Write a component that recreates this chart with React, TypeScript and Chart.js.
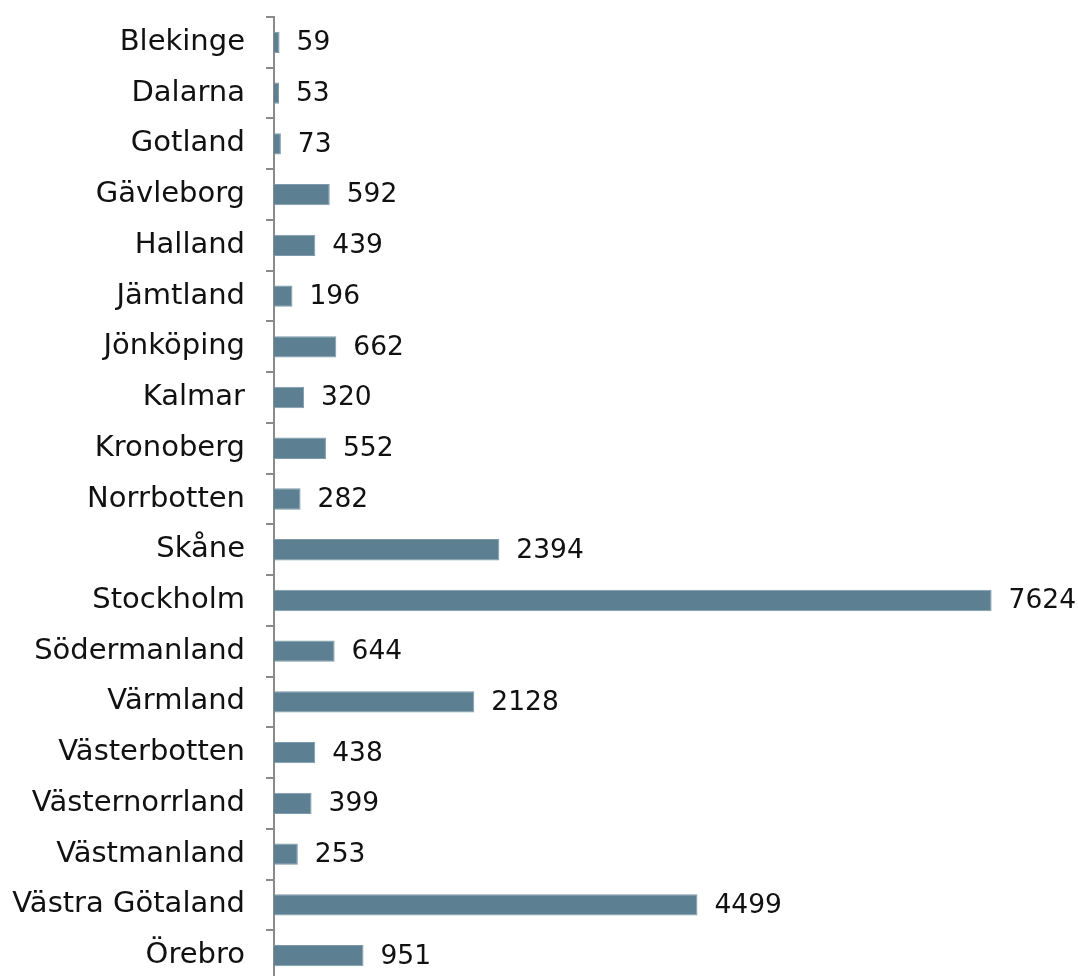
import React, { useEffect, useRef } from "react";
import { Chart, registerables } from "chart.js";

Chart.register(...registerables);

const categories = [
  "Blekinge", "Dalarna", "Gotland", "Gävleborg", "Halland", "Jämtland", "Jönköping",
  "Kalmar", "Kronoberg", "Norrbotten", "Skåne", "Stockholm", "Södermanland", "Värmland",
  "Västerbotten", "Västernorrland", "Västmanland", "Västra Götaland", "Örebro",
];
const values = [59, 53, 73, 592, 439, 196, 662, 320, 552, 282, 2394, 7624, 644, 2128, 438, 399, 253, 4499, 951];

const FONT = "'DejaVu Sans', Verdana, sans-serif";

const valueLabels = {
  id: "valueLabels",
  afterDatasetsDraw(chart: any) {
    const ctx = chart.ctx;
    const meta = chart.getDatasetMeta(0);
    ctx.save();
    ctx.font = `26.5px ${FONT}`;
    ctx.fillStyle = "#111111";
    ctx.textAlign = "left";
    ctx.textBaseline = "middle";
    meta.data.forEach((bar: any, i: number) => {
      ctx.fillText(String(values[i]), bar.x + 17, bar.y + 1);
    });
    ctx.restore();
  },
};

export default function App() {
  const ref = useRef<HTMLCanvasElement>(null);
  useEffect(() => {
    if (!ref.current) return;
    const chart = new Chart(ref.current, {
      type: "bar",
      data: {
        labels: categories,
        datasets: [
          {
            data: values,
            backgroundColor: "#5c7f92",
            borderColor: "#7d9aaa",
            borderWidth: 1,
            barPercentage: 0.42,
            categoryPercentage: 1,
          },
        ],
      },
      options: {
        indexAxis: "y",
        responsive: false,
        animation: false,
        layout: { padding: { top: 17, bottom: 15, right: 51, left: 0 } },
        plugins: { legend: { display: false }, tooltip: { enabled: false } },
        scales: {
          x: { display: false, min: 0, max: 8000 },
          y: {
            afterFit: (s: any) => {
              s.width = 274;
              s.paddingTop = 0;
              s.paddingBottom = 0;
            },
            border: { display: true, color: "#8a8a8a", width: 2 },
            grid: {
              display: true,
              drawOnChartArea: false,
              drawTicks: true,
              tickLength: 8,
              color: "#8a8a8a",
              lineWidth: 2,
              offset: true,
            },
            ticks: {
              padding: 21,
              color: "#111111",
              font: { family: FONT, size: 29 },
            },
          },
        },
      },
      plugins: [valueLabels],
    });
    return () => chart.destroy();
  }, []);
  return (
    <div style={{ position: "fixed", left: 0, top: 0, width: 1078, height: 976, overflow: "hidden", background: "#fff" }}>
      <canvas ref={ref} width={1078} height={996} style={{ display: "block" }} />
    </div>
  );
}
